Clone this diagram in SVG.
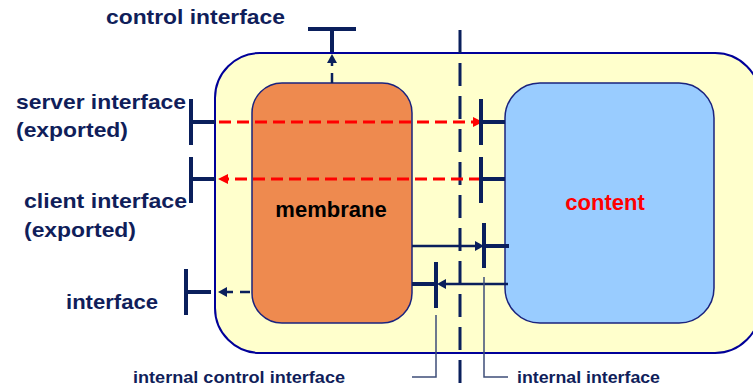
<svg xmlns="http://www.w3.org/2000/svg" width="753" height="388" viewBox="0 0 753 388">
  <defs>
    <style>
      .lbl { font-family: "Liberation Sans", Arial, sans-serif; font-weight: bold; fill: #101E5A; }
      .big { font-size: 21px; }
      .small { font-size: 16px; }
      .bar { stroke: #0A1F5C; stroke-width: 4; fill: none; }
      .wire { stroke: #0A1F5C; stroke-width: 2.5; fill: none; }
      .navydash { stroke: #0A1F5C; stroke-width: 2.5; fill: none; stroke-dasharray: 10 7; }
      .reddash { stroke: #FF0000; stroke-width: 3; fill: none; stroke-dasharray: 12 6; }
      .leader { stroke: #3E4E78; stroke-width: 1.5; fill: none; }
      .axis { stroke: #0A1F5C; stroke-width: 3; fill: none; stroke-dasharray: 23 10; }
    </style>
    <marker id="navyHead" markerUnits="userSpaceOnUse" markerWidth="9" markerHeight="10" refX="0" refY="5" orient="auto" viewBox="0 0 9 10">
      <path d="M0 0 L9 5 L0 10 Z" fill="#0A1F5C"/>
    </marker>
    <marker id="redHead" markerUnits="userSpaceOnUse" markerWidth="10" markerHeight="10" refX="0" refY="5" orient="auto" viewBox="0 0 10 10">
      <path d="M0 0 L10 5 L0 10 Z" fill="#FF0000"/>
    </marker>
  </defs>

  <!-- composite component -->
  <g id="composite">
    <rect x="215" y="53" width="545" height="300" rx="45" ry="45" fill="#FFFFCC" stroke="#000099" stroke-width="2"/>
  </g>

  <!-- membrane -->
  <g id="membrane">
    <rect x="252" y="83" width="160" height="240" rx="30" ry="30" fill="#EE8A4F" stroke="#1A237E" stroke-width="1.5"/>
    <text class="lbl" x="331" y="217" font-size="22" text-anchor="middle" fill="#000" style="fill:#000">membrane</text>
  </g>

  <!-- content -->
  <g id="content">
    <rect x="505" y="83" width="209" height="240" rx="35" ry="35" fill="#99CCFF" stroke="#1A237E" stroke-width="1.5"/>
    <text class="lbl" x="605" y="210" font-size="22" text-anchor="middle" style="fill:#FF0000">content</text>
  </g>

  <!-- boundary between membrane and content -->
  <line class="axis" x1="460" y1="30" x2="460" y2="388"/>

  <!-- connectors and interface symbols -->
  <g id="connectors">
    <!-- control interface -->
    <path class="bar" d="M308 29 H356 M332 29 V52"/>
    <path class="navydash" d="M332 83 V63" marker-end="url(#navyHead)"/>

    <!-- server interface (exported) -->
    <path class="bar" d="M191 99 V145 M191 122 H215"/>
    <path class="reddash" d="M219 122 H473" marker-end="url(#redHead)"/>
    <path class="bar" d="M481 99 V145 M481 122 H505"/>

    <!-- client interface (exported) -->
    <path class="bar" d="M191 157 V203 M191 179 H215"/>
    <path class="reddash" d="M481 179 H228" marker-end="url(#redHead)"/>
    <path class="bar" d="M481 157 V203 M481 179 H505"/>

    <!-- internal interface -->
    <path class="wire" d="M412 246 H475" marker-end="url(#navyHead)"/>
    <path class="bar" d="M484 223 V268 M484 246 H509"/>

    <!-- internal control interface -->
    <path class="wire" d="M508 284 H446" marker-end="url(#navyHead)"/>
    <path class="bar" d="M436 262 V308 M412 284 H436"/>

    <!-- interface -->
    <path class="bar" d="M186 269 V315 M186 292 H211"/>
    <path class="navydash" d="M250 292 H227" marker-end="url(#navyHead)"/>

    <!-- leaders to the bottom labels -->
    <path class="leader" d="M436 315 V377 H412"/>
    <path class="leader" d="M484 277 V377 H508"/>
  </g>

  <!-- labels -->
  <g id="labels">
    <text class="lbl big" x="106" y="24" textLength="179" lengthAdjust="spacingAndGlyphs">control interface</text>
    <text class="lbl big" x="16" y="109" textLength="170" lengthAdjust="spacingAndGlyphs">server interface</text>
    <text class="lbl big" x="16" y="137" textLength="112" lengthAdjust="spacingAndGlyphs">(exported)</text>
    <text class="lbl big" x="24" y="208" textLength="163" lengthAdjust="spacingAndGlyphs">client interface</text>
    <text class="lbl big" x="24" y="237" textLength="112" lengthAdjust="spacingAndGlyphs">(exported)</text>
    <text class="lbl big" x="66" y="309" textLength="92" lengthAdjust="spacingAndGlyphs">interface</text>
    <text class="lbl small" x="133" y="383" textLength="212" lengthAdjust="spacingAndGlyphs">internal control interface</text>
    <text class="lbl small" x="517" y="383" textLength="143" lengthAdjust="spacingAndGlyphs">internal interface</text>
  </g>
</svg>
